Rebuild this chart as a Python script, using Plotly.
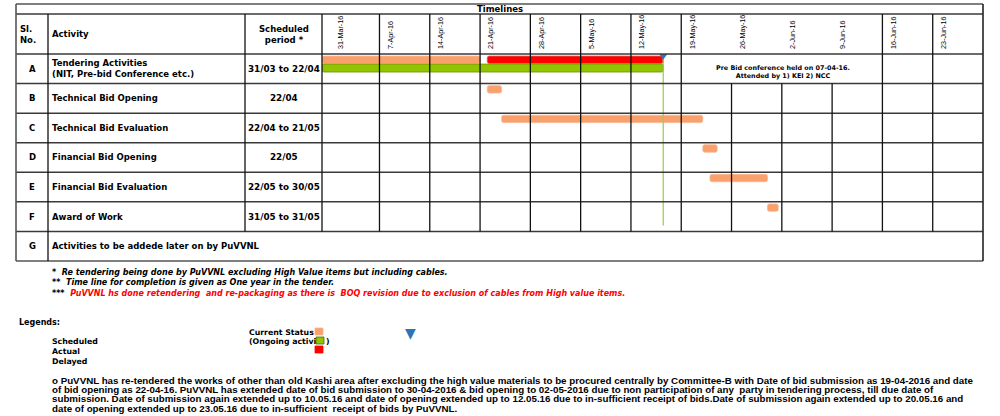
import pandas as pd
import plotly.graph_objects as go

# ---- data ----
SL_NO = ['A', 'B', 'C', 'D', 'E', 'F', 'G']
ACTIVITY = ['Tendering Activities<br>(NIT, Pre-bid Conference etc.)',
            'Technical Bid Opening',
            'Technical Bid Evaluation',
            'Financial Bid Opening',
            'Financial Bid Evaluation',
            'Award of Work',
            'Activities to be addede later on by PuVVNL']
PERIOD = ['31/03 to 22/04', '22/04', '22/04 to 21/05', '22/05',
          '22/05 to 30/05', '31/05 to 31/05', '']

WEEKS = ['2016-03-31', '2016-04-07', '2016-04-14', '2016-04-21', '2016-04-28',
         '2016-05-05', '2016-05-12', '2016-05-19', '2016-05-26', '2016-06-02',
         '2016-06-09', '2016-06-16', '2016-06-23']
WEEK_LABELS = ['31-Mar-16', '7-Apr-16', '14-Apr-16', '21-Apr-16', '28-Apr-16',
               '5-May-16', '12-May-16', '19-May-16', '26-May-16', '2-Jun-16',
               '9-Jun-16', '16-Jun-16', '23-Jun-16']

# scheduled bars (orange)
sched_row = [0, 1, 2, 3, 4, 5]
sched_start = ['2016-03-30', '2016-04-22', '2016-04-24', '2016-05-22', '2016-05-23', '2016-05-31']
sched_end = ['2016-04-21', '2016-04-24', '2016-05-22', '2016-05-24', '2016-05-31', '2016-06-01 12:00']
# actual (green) and delayed (red)
actual_row, actual_start, actual_end = [0], ['2016-03-30'], ['2016-05-16 12:00']
delay_row, delay_start, delay_end = [0], ['2016-04-22'], ['2016-05-16 12:00']
STATUS_DATE = '2016-05-16 12:00'

W, H = 1000, 416
def px(x):
    return x / W
def py(y):
    return 1 - y / H

TOP, ROW_H = 54, (261 - 54) / 7.0
def row_y(k):  # pixel y of row boundary k
    return TOP + k * ROW_H

ORANGE = '#F9A06C'
GREEN = '#92C400'
RED = '#FF0000'
FONT = 'DejaVu Sans'
FONT2 = 'Liberation Sans'


def dur(s, e):
    d = pd.to_datetime(pd.Series(e), format='mixed') - pd.to_datetime(pd.Series(s), format='mixed')
    return list(d.dt.total_seconds() * 1000)


fig = go.Figure()
fig.add_trace(go.Bar(y=sched_row, base=sched_start, x=dur(sched_start, sched_end),
                     orientation='h', width=0.25, offset=-0.43,
                     marker=dict(color=ORANGE, line=dict(color='#F6B894', width=0.8), cornerradius=2),
                     hoverinfo='skip'))
fig.add_trace(go.Bar(y=delay_row, base=delay_start, x=dur(delay_start, delay_end),
                     orientation='h', width=0.25, offset=-0.43,
                     marker=dict(color=RED, line=dict(color='#E06060', width=0.8), cornerradius=2),
                     hoverinfo='skip'))
fig.add_trace(go.Bar(y=actual_row, base=actual_start, x=dur(actual_start, actual_end),
                     orientation='h', width=0.27, offset=-0.16,
                     marker=dict(color=GREEN, line=dict(color='#6E9400', width=0.8), cornerradius=2),
                     hoverinfo='skip'))
# status line + marker
fig.add_trace(go.Scatter(x=[STATUS_DATE, STATUS_DATE], y=[-0.5, 5.3], mode='lines',
                         line=dict(color='rgba(146,208,80,0.85)', width=1.5), hoverinfo='skip'))
fig.add_trace(go.Scatter(x=[STATUS_DATE], y=[-0.47], mode='markers',
                         marker=dict(symbol='triangle-down', size=9, color='#2E75B6'), hoverinfo='skip'))

shapes = []
def hline(y, x0, x1, color='#3a3a3a', w=1.5):
    shapes.append(dict(type='line', xref='paper', yref='paper', x0=px(x0), x1=px(x1),
                       y0=py(y), y1=py(y), line=dict(color=color, width=w)))
def vline(x, y0, y1, color='#111111', w=1.3, xref='paper'):
    xx = px(x) if xref == 'paper' else x
    shapes.append(dict(type='line', xref=xref, yref='paper', x0=xx, x1=xx,
                       y0=py(y0), y1=py(y1), line=dict(color=color, width=w)))

hline(4, 16, 983, '#7f7f7f', 2)
hline(14, 16, 983)
for k in range(0, 7):
    hline(row_y(k), 16, 983)
hline(row_y(7), 16, 983, '#7f7f7f', 2.2)
vline(16, 4, row_y(7), '#555555', 1.6)
vline(983, 4, row_y(7), '#222222', 1.6)
vline(48, 14, row_y(7))
vline(245, 14, row_y(6))
vline(322, 14, row_y(6))
merged = ['2016-05-26', '2016-06-02', '2016-06-09']
for d in WEEKS[1:]:
    vline(d, row_y(1) if d in merged else 14, row_y(6), xref='x')

# legend swatches
def box(x0, y0, x1, y1, color, line):
    shapes.append(dict(type='rect', xref='paper', yref='paper', x0=px(x0), x1=px(x1),
                       y0=py(y1), y1=py(y0), fillcolor=color, line=dict(color=line, width=0.8)))
box(315, 328, 323, 335, ORANGE, '#F6B894')
box(316, 337, 324, 344, GREEN, '#4F6B00')
box(315, 346, 323, 353, RED, RED)

ann = []
def text(x, y, s, size=8, anchor='left', color='black', font=FONT, bold=True):
    ann.append(dict(x=px(x), y=py(y), xref='paper', yref='paper', showarrow=False,
                    text=('<b>%s</b>' % s) if bold else s, xanchor=anchor, yanchor='middle',
                    align=anchor, font=dict(family=font, size=size, color=color)))

text(500, 9, 'Timelines', 8.5, 'center')
text(18, 34, 'Sl.<br>No.', 8.5)
text(50, 34, 'Activity', 8.5)
text(284, 34, 'Scheduled<br>period *', 8.5, 'center')
for k in range(7):
    yc = (row_y(k) + row_y(k + 1)) / 2
    text(32, yc, SL_NO[k], 8.5, 'center')
    text(50, yc, ACTIVITY[k], 8.5)
    if PERIOD[k]:
        text(284, yc, PERIOD[k], 8.8, 'center')
text(783, 72, 'Pre Bid conference held on 07-04-16.<br>Attended by 1) KEI 2) NCC', 6.4, 'center')

text(50, 272, '<i>*  Re tendering being done by PuVVNL excluding High Value items but including cables.</i>', 8)
text(50, 282, '<i>**  Time line for completion is given as One year in the tender.</i>', 8)
text(50, 293, "<i>***  <span style='color:#FF0000'>PuVVNL hs done retendering  and re-packaging as there is  BOQ revision due to exclusion of cables from High value items.</span></i>", 8)

text(17, 322, 'Legends:', 8)
text(247, 332, 'Current Status', 7.8)
text(247, 341, '(Ongoing activi', 7.8)
text(324, 341, ')', 7.8)
text(50, 341, 'Scheduled', 7.8)
text(50, 351, 'Actual', 7.8)
text(50, 361, 'Delayed', 7.8)
text(410, 333, '▼', 14, 'center', '#2E75B6', bold=False)

para = ['o PuVVNL has re-tendered the works of other than old Kashi area after excluding the high value materials to be procured centrally by Committee-B with Date of bid submission as 19-04-2016 and date',
        'of bid opening as 22-04-16. PuVVNL has extended date of bid submission to 30-04-2016 &amp; bid opening to 02-05-2016 due to non participation of any  party in tendering process, till due date of',
        'submission. Date of submission again extended up to 10.05.16 and date of opening extended up to 12.05.16 due to in-sufficient receipt of bids.Date of submission again extended up to 20.05.16 and',
        'date of opening extended up to 23.05.16 due to in-sufficient  receipt of bids by PuVVNL.']
for i, line in enumerate(para):
    text(50, 380 + i * 9.4, line, 9.75, font=FONT2)

fig.update_layout(
    width=W, height=H, autosize=False,
    margin=dict(l=0, r=0, t=0, b=0),
    plot_bgcolor='white', paper_bgcolor='white',
    showlegend=False, barmode='overlay',
    shapes=shapes, annotations=ann,
    xaxis=dict(type='date', domain=[px(322), px(983)], range=['2016-03-30', '2016-06-30'],
               side='top', tickvals=WEEKS, ticktext=WEEK_LABELS, tickangle=-90,
               tickfont=dict(family='Liberation Sans Narrow, Liberation Sans', size=7.2, color='black'),
               ticks='', showgrid=False, zeroline=False, showline=False,
               ticklabelshift=11, ticklabelstandoff=4, fixedrange=True),
    yaxis=dict(type='linear', domain=[py(row_y(7)), py(TOP)], range=[6.5, -0.5],
               visible=False, fixedrange=True),
)

# page body margin off so the figure sits at the window's top-left corner
fig.write_html('out.html', config={'displayModeBar': False},
               post_script="document.body.style.margin='0';")
